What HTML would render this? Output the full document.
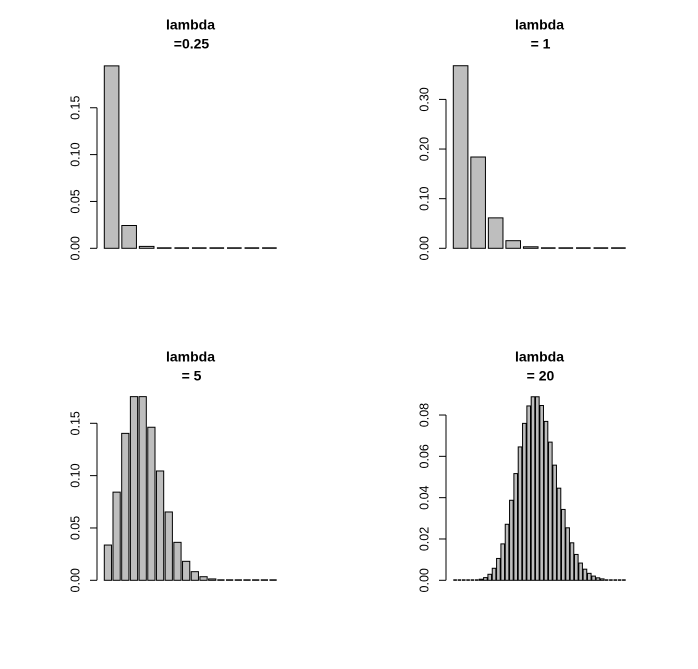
<!DOCTYPE html>
<html><head><meta charset="utf-8"><style>
html,body{margin:0;padding:0;background:#fff;}
svg text{font-family:"Liberation Sans",Arial,sans-serif;}
</style></head><body>
<svg id="s" width="698" height="664" xmlns="http://www.w3.org/2000/svg"></svg>
<script>
function dpois(k,l){let lp=-l+k*Math.log(l);for(let i=2;i<=k;i++)lp-=Math.log(i);return Math.exp(lp);}
const panels=[
 {lam:0.25,n:10,x0:104.3,base:248.3,ppu:937,ticks:[0,0.05,0.10,0.15],lab:["0.00","0.05","0.10","0.15"],axx:97,t1:"lambda",t2:"=0.25"},
 {lam:1,n:10,x0:453.3,base:248.3,ppu:496.3,ticks:[0,0.1,0.2,0.3],lab:["0.00","0.10","0.20","0.30"],axx:446,t1:"lambda",t2:"= 1"},
 {lam:5,n:20,x0:104.3,base:580.3,ppu:1046.7,ticks:[0,0.05,0.10,0.15],lab:["0.00","0.05","0.10","0.15"],axx:97,t1:"lambda",t2:"= 5"},
 {lam:20,n:40,x0:453.3,base:580.3,ppu:2066,ticks:[0,0.02,0.04,0.06,0.08],lab:["0.00","0.02","0.04","0.06","0.08"],axx:446,t1:"lambda",t2:"= 20"}
];
let h='';
const W=172.4;
for(const p of panels){
 const upx=W/(p.n*1.2-0.2);
 for(let i=0;i<p.n;i++){
  const v=dpois(i+1,p.lam);
  const x=p.x0+i*1.2*upx, w=upx, hh=v*p.ppu;
  const y=p.base-hh;
  if(hh>=1) h+=`<rect x="${x.toFixed(2)}" y="${y.toFixed(2)}" width="${w.toFixed(2)}" height="${hh.toFixed(2)}" fill="#bebebe" stroke="#000" stroke-width="1"/>`;
  else h+=`<rect x="${x.toFixed(2)}" y="${(p.base-1).toFixed(2)}" width="${w.toFixed(2)}" height="1.5" fill="#000"/>`;
 }
 const top=p.base-p.ticks[p.ticks.length-1]*p.ppu;
 h+=`<line x1="${p.axx}" y1="${p.base}" x2="${p.axx}" y2="${top}" stroke="#000"/>`;
 p.ticks.forEach((t,j)=>{const y=p.base-t*p.ppu;
  h+=`<line x1="${p.axx-7}" y1="${y}" x2="${p.axx}" y2="${y}" stroke="#000"/>`;
  h+=`<text x="${p.axx-22}" y="${y}" font-size="12.5" text-anchor="middle" transform="rotate(-90 ${p.axx-22} ${y})" dy="4.5">${p.lab[j]}</text>`;});
 const cx=p.x0+W/2, ty=p.base-219;
 h+=`<text x="${cx}" y="${ty}" font-size="14" font-weight="bold" text-anchor="middle">${p.t1}</text>`;
 h+=`<text x="${cx+1}" y="${ty+19}" font-size="14" font-weight="bold" text-anchor="middle">${p.t2}</text>`;
}
document.getElementById('s').innerHTML=h;
</script>
</body></html>
